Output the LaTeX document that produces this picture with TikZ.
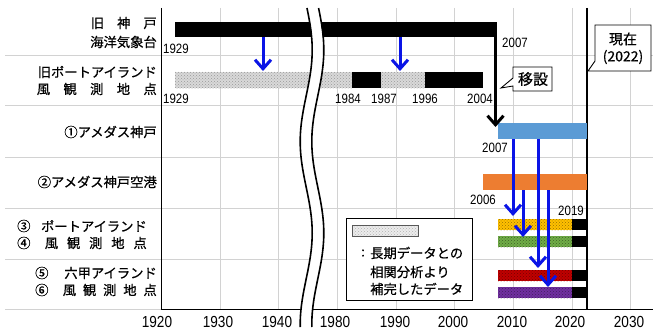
\documentclass[tikz,border=0pt]{standalone}
\usepackage{fontspec}
\setmainfont{Noto Sans CJK JP}[FakeBold=0.6]
\newfontfamily\numfont[FakeStretch=0.85]{Liberation Sans}
\usetikzlibrary{arrows.meta,patterns}
\definecolor{gridc}{HTML}{D2D2D2}
\definecolor{amblue}{HTML}{5B9BD5}
\definecolor{amorange}{HTML}{ED7D31}
\definecolor{pyellow}{HTML}{FFC000}
\definecolor{pgreen}{HTML}{70AD47}
\definecolor{pred}{HTML}{C00000}
\definecolor{ppurple}{HTML}{7030A0}
\definecolor{arrblue}{HTML}{0A14E6}
\begin{document}
\begin{tikzpicture}[x=1pt,y=-1pt,
  bar/.style={draw=none, inner sep=0pt, outer sep=0pt, anchor=north west, rectangle},
  dotbar/.style 2 args={preaction={fill=#1}, pattern=crosshatch dots, pattern color=#2},
  lab/.style={inner sep=0pt, font=\fontsize{13.3}{16}\selectfont},
  yr/.style={inner sep=0pt, font=\numfont\fontsize{13.5}{15}\selectfont},
  axl/.style={inner sep=0pt, font=\numfont\fontsize{16}{18}\selectfont},
  gridl/.style={draw=gridc, line width=0.8pt},
  blarrow/.style={draw=arrblue, line width=3pt, -{Straight Barb[length=9pt,width=16pt]}},
  bkarrow/.style={draw=black, line width=3pt, -{Straight Barb[length=9pt,width=16pt]}},
  callout/.style={draw=black, fill=white, line width=0.9pt, line join=miter}
]
\useasboundingbox (0,0) rectangle (653,329);
\fill[white] (0,0) rectangle (653,329);

% grid
\foreach \yy in {55,105,157,208,259} \draw[gridl] (5,\yy) -- (653,\yy);
\draw[gridl] (5,309) -- (161,309);
\foreach \xx in {220,278,337,396,454,513,572,630} \draw[gridl] (\xx,8) -- (\xx,309);
\draw[black, line width=0.9pt] (161,8) -- (161,309) -- (653,309);

% present line
\draw[black, line width=1.4pt] (587,8) -- (587,309);

% bars
\node[bar, fill=black, minimum width=322pt, minimum height=15pt] (kobe) at (175,22) {};
\node[bar, dotbar={gray!30}{gray!80}, minimum width=177pt, minimum height=16pt] (pia) at (175,72) {};
\node[bar, fill=black, minimum width=29pt, minimum height=16pt] (pib) at (352,72) {};
\node[bar, dotbar={gray!30}{gray!80}, minimum width=44pt, minimum height=16pt] (pic) at (381,72) {};
\node[bar, fill=black, minimum width=58pt, minimum height=16pt] (pid) at (425,72) {};
\node[bar, fill=amblue, minimum width=89pt, minimum height=16pt] (ame) at (498,123) {};
\node[bar, fill=amorange, minimum width=104pt, minimum height=16pt] (kix) at (483,174) {};
\node[bar, dotbar={pyellow}{pyellow!60!black}, minimum width=74pt, minimum height=11pt] (p3) at (498,219) {};
\node[bar, fill=black, minimum width=15pt, minimum height=11pt] (p3b) at (572,219) {};
\node[bar, dotbar={pgreen}{pgreen!55!black}, minimum width=74pt, minimum height=11pt] (p4) at (498,236) {};
\node[bar, fill=black, minimum width=15pt, minimum height=11pt] (p4b) at (572,236) {};
\node[bar, dotbar={pred}{pred!60!black}, minimum width=74pt, minimum height=11pt] (p5) at (498,270) {};
\node[bar, fill=black, minimum width=15pt, minimum height=11pt] (p5b) at (572,270) {};
\node[bar, dotbar={ppurple}{ppurple!60!black}, minimum width=74pt, minimum height=11pt] (p6) at (498,287) {};
\node[bar, fill=black, minimum width=15pt, minimum height=11pt] (p6b) at (572,287) {};

% arrows
\draw[blarrow] (263,0 |- kobe.south) -- ([yshift=1pt]263,0 |- pia.north);
\draw[blarrow] (400,0 |- kobe.south) -- ([yshift=1pt]400,0 |- pic.north);
\coordinate (bk1) at ([xshift=-1.5pt]kobe.south east);
\coordinate (bk2) at (bk1 |- ame.north);
\draw[bkarrow] ([yshift=1pt]bk1) -- ([yshift=-4pt]bk2);
\draw[blarrow] (513,0 |- ame.south) -- ([yshift=3pt]513,0 |- p3.north);
\draw[blarrow] (538,0 |- ame.south) -- ([yshift=2pt]538,0 |- p5.north);
\draw[blarrow] (523,0 |- kix.south) -- ([yshift=-1pt]523,0 |- p4.north);
\draw[blarrow] (548,0 |- kix.south) -- ([yshift=0pt]548,0 |- p6.north);

% year labels
\node[yr] (y1929a) at (176,49) {1929};
\node[yr] (y2007a) at (515,43) {2007};
\node[yr] (y1929b) at (176,99) {1929};
\node[yr] (y1984) at (348,99) {1984};
\node[yr] (y1987) at (384,99) {1987};
\node[yr] (y1996) at (425,99) {1996};
\node[yr] (y2004) at (480,99) {2004};
\node[yr] (y2007b) at (495,148) {2007};
\node[yr] (y2006) at (483,200) {2006};
\node[yr] (y2019) at (571,211) {2019};

% axis labels
\node[axl] (x1920) at (157,321.5) {1920};
\node[axl] (x1930) at (218,321.5) {1930};
\node[axl] (x1940) at (277,321.5) {1940};
\node[axl] (x1980) at (335,321.5) {1980};
\node[axl] (x1990) at (395,321.5) {1990};
\node[axl] (x2000) at (453,321.5) {2000};
\node[axl] (x2010) at (512,321.5) {2010};
\node[axl] (x2020) at (570,321.5) {2020};
\node[axl] (x2030) at (629,321.5) {2030};

% left labels
\node[lab, anchor=east] (l1a) at (157,23) {\makebox[66pt][s]{旧\hfill 神\hfill 戸}};
\node[lab, anchor=east] (l1b) at (157,42) {海洋気象台};
\node[lab, anchor=east] (l2a) at (157,72) {旧ポートアイランド};
\node[lab, anchor=east] (l2b) at (157,89) {\makebox[120pt][s]{風\hfill 観\hfill 測\hfill 地\hfill 点}};
\node[lab, anchor=east] (l3) at (157,132) {①アメダス神戸};
\node[lab, anchor=east] (l4) at (157,182) {②アメダス神戸空港};
\node[lab, anchor=west] (l5n) at (17,226) {③};
\node[lab, anchor=east] (l5a) at (147,226) {ポートアイランド};
\node[lab, anchor=west] (l5m) at (17,243) {④};
\node[lab, anchor=east] (l5b) at (147,243) {\makebox[102pt][s]{風\hfill 観\hfill 測\hfill 地\hfill 点}};
\node[lab, anchor=west] (l6n) at (35,273) {⑤};
\node[lab, anchor=east] (l6a) at (157,273) {六甲アイランド};
\node[lab, anchor=west] (l6m) at (35,290) {⑥};
\node[lab, anchor=east] (l6b) at (157,290) {\makebox[94pt][s]{風\hfill 観\hfill 測\hfill 地\hfill 点}};

% callouts
\filldraw[callout] (595,25) -- (651,25) -- (651,71) -- (588,71) -- (595,61) -- cycle;
\node[lab, font=\fontsize{14}{16}\selectfont] (genzai) at (623,39) {現在};
\node[lab, font=\fontsize{14}{16}\selectfont] (genzaiy) at (623,57) {(2022)};
\filldraw[callout] (513,67) -- (552,67) -- (552,91) -- (513,91) -- (513,86) -- (501,88) -- (513,78) -- cycle;
\node[lab, font=\fontsize{15}{17}\selectfont] (iseki) at (533,79) {移設};

% legend
\node[bar, draw=black, line width=0.9pt, fill=white, minimum width=126pt, minimum height=82pt] (legend) at (346,218) {};
\node[bar, draw=gray!70!black, line width=0.6pt, dotbar={gray!15}{gray!60}, minimum width=66pt, minimum height=11pt] (legpat) at (352,225) {};
\node[lab, anchor=west] (lcolon) at (361,253) {:};
\node[lab, anchor=west] (lt1) at (370,253) {長期データとの};
\node[lab, anchor=west] (lt2) at (370,272) {相関分析より};
\node[lab, anchor=west] (lt3) at (370,289) {補完したデータ};

% axis break
\draw[white, line width=10.5pt] plot[domain=6:327, samples=90, variable=\t, smooth] ({312+6*sin((\t-4.25)*1.967)}, \t);
\draw[black, line width=1.6pt] plot[domain=8:327, samples=90, variable=\t, smooth] ({306.2+6*sin((\t-4.25)*1.967)}, \t);
\draw[black, line width=1.6pt] plot[domain=8:327, samples=90, variable=\t, smooth] ({317.8+6*sin((\t-4.25)*1.967)}, \t);
\end{tikzpicture}
\end{document}
